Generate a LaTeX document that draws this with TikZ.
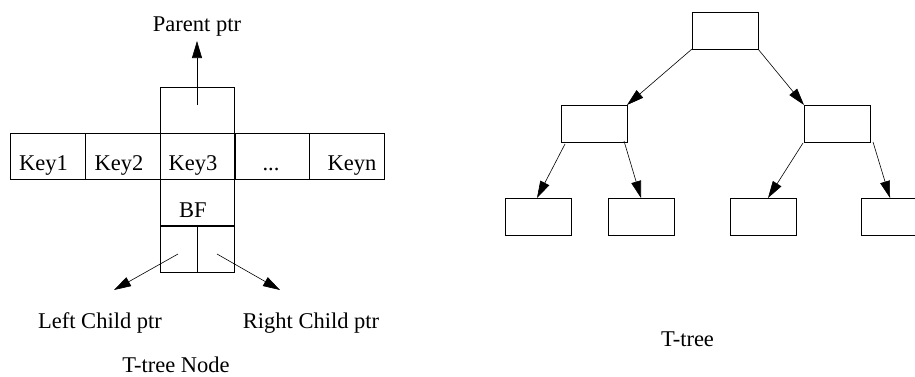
\documentclass[tikz,border=0pt]{standalone}
\usepackage{fontspec}
\setmainfont{Liberation Serif}
\usetikzlibrary{arrows.meta}
\begin{document}
\begin{tikzpicture}[x=1pt,y=-1pt,
  every node/.style={inner sep=0pt,outer sep=0pt},
  cell/.style={draw,line width=0.8pt,minimum width=#1,minimum height=46pt,anchor=north west},
  cell/.default=75pt,
  tnode/.style={draw,line width=0.8pt,minimum width=66pt,minimum height=37pt,anchor=north west},
  lbl/.style={anchor=base,font=\fontsize{22.5}{26}\selectfont},
  ptr/.style={line width=0.6pt,-{Triangle[length=17pt,width=10pt]}}]
\clip (0,0) rectangle (915,376);
\fill[white] (0,0) rectangle (915,376);

% ---- T-tree node layout ----
\node[cell] (k1) at (10,133) {};
\node[cell] (k2) at (85,133) {};
\node[cell] (k3) at (160,133) {};
\node[cell] (kd) at (234,133) {};
\node[cell] (kn) at (309,133) {};
\node[cell=74pt] (top) at (160,87) {};
\node[cell=74pt] (bf) at (160,179) {};
\node[cell=37pt] (lp) at (160,226) {};
\node[cell=37pt] (rp) at (197,226) {};

\node[lbl] at (43.5,170) {Key1};
\node[lbl] at (119,170) {Key2};
\node[lbl] at (193,170) {Key3};
\node[lbl] at (271,170) {...};
\node[lbl] at (352,170) {Keyn};
\node[lbl] at (193,217) {BF};

\node[lbl] (parent) at (197,31) {Parent ptr};
\node[lbl] (lchild) at (100,328) {Left Child ptr};
\node[lbl] (rchild) at (311,328) {Right Child ptr};
\node[lbl] (caption1) at (176,372) {T-tree Node};

\coordinate (ps) at (197,105);
\coordinate (pe) at (197,41);
\coordinate (ls) at (178,254);
\coordinate (le) at (114,290);
\coordinate (rs) at (217,254);
\coordinate (re) at (280,290);
\draw[ptr] (ps) -- (pe);
\draw[ptr] (ls) -- (le);
\draw[ptr] (rs) -- (re);

% ---- T-tree ----
\node[tnode] (root) at (692,12) {};
\node[tnode] (l) at (561,105) {};
\node[tnode] (r) at (804,105) {};
\node[tnode] (ll) at (505,198) {};
\node[tnode] (lr) at (608,198) {};
\node[tnode] (rl) at (730,198) {};
\node[tnode] (rr) at (861,198) {};

\draw[ptr] (root.south west) -- (l.north east);
\draw[ptr] (root.south east) -- (r.north west);
\draw[ptr] ([shift={(4,2)}]l.south west) -- ([xshift=-1pt]ll.north);
\draw[ptr] ([shift={(-3,-1)}]l.south east) -- (lr.north);
\draw[ptr] ([shift={(-1,1)}]r.south west) -- ([xshift=5pt]rl.north);
\draw[ptr] ([shift={(3,0)}]r.south east) -- ([xshift=-4pt]rr.north);

\node[lbl] (caption2) at (687.5,346) {T-tree};
\end{tikzpicture}
\end{document}
